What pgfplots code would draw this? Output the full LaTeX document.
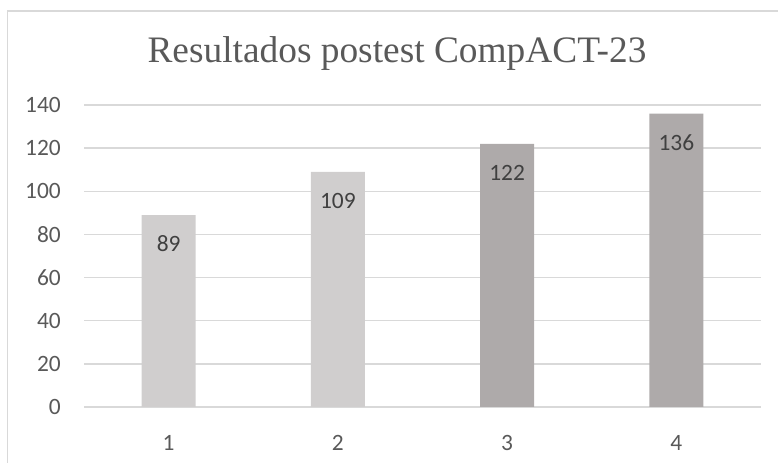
\documentclass[border=0pt]{standalone}
\usepackage{pgfplots}
\pgfplotsset{compat=1.18}
\usepackage{fontspec}
\setmainfont{Liberation Serif}
\newfontfamily\calibri{Carlito}
\definecolor{txt}{HTML}{595959}
\definecolor{lbl}{HTML}{404040}
\definecolor{grd}{HTML}{D9D9D9}
\definecolor{barA}{HTML}{D0CECE}
\definecolor{barB}{HTML}{AEAAAA}
\begin{document}
\begin{tikzpicture}
\useasboundingbox (0,0) rectangle (778bp,463bp);
% chart frame, cut off on the right and at the bottom as in the original
\draw[grd, line width=1.2bp] (7.5bp,-20bp) -- (7.5bp,452bp) -- (800bp,452bp);
\node[anchor=base, text=txt, font=\fontsize{37.5}{44}\selectfont] at (397bp,400bp) {Resultados postest CompACT-23};
\begin{axis}[
    at={(84bp,56bp)}, anchor=south west,
    scale only axis,
    width=677bp, height=302bp,
    xmin=0.5, xmax=4.5,
    ymin=0, ymax=140,
    xtick={1,2,3,4},
    ytick={0,20,...,140},
    ymajorgrids,
    major grid style={grd, line width=1.3bp},
    axis line style={draw=none},
    tick style={draw=none},
    /pgf/number format/assume math mode=true,
    tick label style={font=\calibri\fontsize{23.5}{28}\selectfont, text=txt, inner sep=0pt},
    yticklabel style={anchor=east, xshift=-23bp},
    xticklabel style={anchor=north, yshift=-24bp},
    ybar, bar width=54bp, bar shift=0pt,
    nodes near coords,
    every node near coord/.append style={font=\calibri\fontsize{23.5}{28}\selectfont, text=lbl, anchor=center, yshift=-29bp},
]
\addplot[fill=barA, draw=none] coordinates {(1,89) (2,109)};
\addplot[fill=barB, draw=none] coordinates {(3,122) (4,136)};
\end{axis}
\end{tikzpicture}
\end{document}
